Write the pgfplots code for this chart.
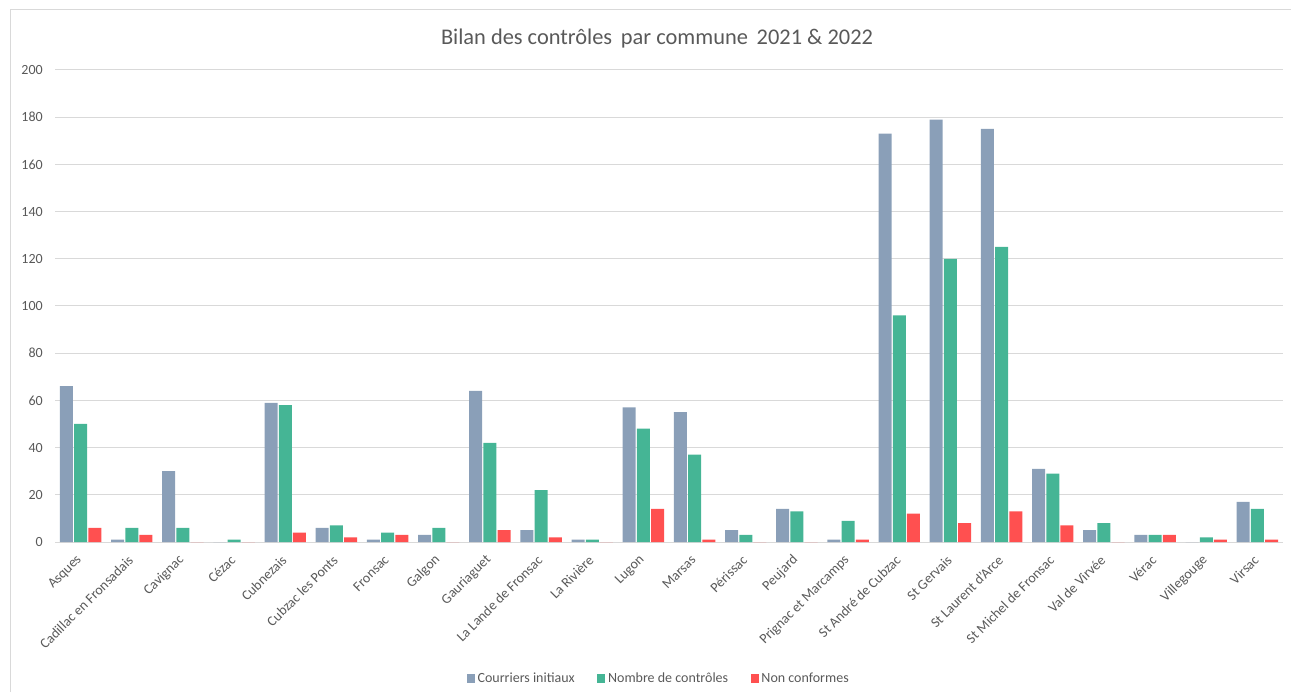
\documentclass[border=0pt]{standalone}
\usepackage{pgfplots}
\pgfplotsset{compat=1.18}
\usepackage{fontspec}
\setmainfont{Carlito}
\definecolor{cblue}{HTML}{8A9FB8}
\definecolor{cgreen}{HTML}{45B595}
\definecolor{cred}{HTML}{FF5050}
\definecolor{ctext}{HTML}{595959}
\definecolor{cgrid}{HTML}{D9D9D9}
\begin{document}
\begin{tikzpicture}
\useasboundingbox (0,0) rectangle (968.25pt,519pt);
\draw[cgrid, line width=0.75pt] (7.5pt,0) -- (7.5pt,511.5pt) -- (968.25pt,511.5pt);
\node[anchor=base, text=ctext, font=\fontsize{16.8}{19}\selectfont] at (492.75pt,485.8pt) {Bilan des contrôles\, par commune\, 2021 \& 2022};
\begin{axis}[
  at={(41.25pt,112.5pt)}, anchor=south west,
  scale only axis, width=921pt, height=354pt,
  ybar=0.9pt, bar width=9.75pt,
  xmin=-0.5, xmax=23.5, ymin=0, ymax=200,
  ytick={0,20,...,200},
  xtick={0,...,23},
  xticklabels={Asques,Cadillac en Fronsadais,Cavignac,Cézac,Cubnezais,Cubzac les Ponts,Fronsac,Galgon,Gauriaguet,La Lande de Fronsac,La Rivière,Lugon,Marsas,Périssac,Peujard,Prignac et Marcamps,St André de Cubzac,St Gervais,St Laurent d'Arce,St Michel de Fronsac,Val de Virvée,Vérac,Villegouge,Virsac},
  major tick length=0pt,
  axis line style={draw=none},
  ymajorgrids, grid style={cgrid, line width=0.75pt},
  /pgf/number format/assume math mode=true,
  ticklabel style={text=ctext, font=\fontsize{10.5}{12}\selectfont},
  yticklabel style={inner sep=0pt, xshift=-9pt},
  xticklabel style={yshift=-11pt, rotate=45, anchor=east, inner sep=1pt},
  legend style={at={(0.492,-0.29)}, anchor=center, draw=none, fill=none,
    legend columns=-1, font=\fontsize{10.5}{12}\selectfont, text=ctext,
    /tikz/every even column/.append style={column sep=15pt}},
  legend image code/.code={\fill[#1] (0pt,-3pt) rectangle (6pt,3.5pt);},
]
\addplot[fill=cblue, draw=none] coordinates {(0,66) (1,1) (2,30) (3,0) (4,59) (5,6) (6,1) (7,3) (8,64) (9,5) (10,1) (11,57) (12,55) (13,5) (14,14) (15,1) (16,173) (17,179) (18,175) (19,31) (20,5) (21,3) (22,0) (23,17)};
\addplot[fill=cgreen, draw=none] coordinates {(0,50) (1,6) (2,6) (3,1) (4,58) (5,7) (6,4) (7,6) (8,42) (9,22) (10,1) (11,48) (12,37) (13,3) (14,13) (15,9) (16,96) (17,120) (18,125) (19,29) (20,8) (21,3) (22,2) (23,14)};
\addplot[fill=cred, draw=none] coordinates {(0,6) (1,3) (2,0) (3,0) (4,4) (5,2) (6,3) (7,0) (8,5) (9,2) (10,0) (11,14) (12,1) (13,0) (14,0) (15,1) (16,12) (17,8) (18,13) (19,7) (20,0) (21,3) (22,1) (23,1)};
\legend{Courriers initiaux,Nombre de contrôles,Non conformes}
\end{axis}
\end{tikzpicture}
\end{document}
